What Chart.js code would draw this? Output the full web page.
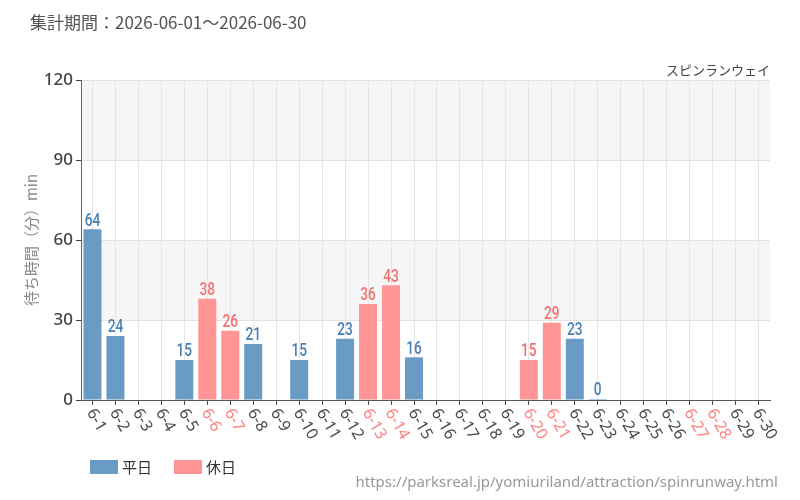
<!DOCTYPE html>
<html lang="ja">
<head>
<meta charset="UTF-8">
<title>スピンランウェイ 待ち時間</title>
<script src="https://cdn.jsdelivr.net/npm/chart.js"></script>
<style>
    body {
        margin: 0;
        padding: 0;
        background: #ffffff;
        font-family: 'Noto Sans CJK JP', 'Noto Sans', sans-serif;
    }
    .wrap {
        position: relative;
        width: 800px;
        height: 500px;
    }
    .period {
        position: absolute;
        left: 30px;
        top: 9px;
        font-size: 17px;
        color: #555;
    }
    .ride {
        position: absolute;
        right: 30px;
        top: 60px;
        font-size: 13px;
        color: #444;
    }
    .legend {
        position: absolute;
        left: 90px;
        top: 456px;
        font-size: 15px;
        color: #333;
        display: flex;
        align-items: center;
    }
    .legend span.box {
        display: inline-block;
        width: 28px;
        height: 14px;
        margin-right: 4px;
    }
    .legend span.txt {
        margin-right: 22px;
    }
    .src {
        position: absolute;
        right: 22px;
        top: 471px;
        font-size: 15px;
        color: #999;
        font-family: 'Noto Sans', sans-serif;
    }
    canvas {
        position: absolute;
        left: 0;
        top: 0;
    }
</style>
</head>
<body>
<div class="wrap">
    <canvas id="waitChart" width="800" height="500"></canvas>
    <div class="period">集計期間：2026-06-01～2026-06-30</div>
    <div class="ride">スピンランウェイ</div>
    <div class="legend">
        <span class="box" style="background:#6a9bc4"></span><span class="txt">平日</span>
        <span class="box" style="background:#ff9494"></span><span class="txt">休日</span>
    </div>
    <div class="src">https://parksreal.jp/yomiuriland/attraction/spinrunway.html</div>
</div>

<script>
    // June 2026 days
    const days = ['6-1','6-2','6-3','6-4','6-5','6-6','6-7','6-8','6-9','6-10',
                  '6-11','6-12','6-13','6-14','6-15','6-16','6-17','6-18','6-19','6-20',
                  '6-21','6-22','6-23','6-24','6-25','6-26','6-27','6-28','6-29','6-30'];
    const holidays = ['6-6','6-7','6-13','6-14','6-20','6-21','6-27','6-28'];

    // average waits (min), null = no data
    const weekdayWait = [64, 24, null, null, 15, null, null, 21, null, 15,
                         null, 23, null, null, 16, null, null, null, null, null,
                         null, 23, 0, null, null, null, null, null, null, null];
    const holidayWait = [null, null, null, null, null, 38, 26, null, null, null,
                         null, null, 36, 43, null, null, null, null, null, 15,
                         29, null, null, null, null, null, null, null, null, null];
    const yTicks = [0, 30, 60, 90, 120];

    const weekdayColor = '#6a9bc4';
    const holidayColor = '#ff9494';

    // grey bands 30-60, 90-120
    const bandPlugin = {
        id: 'bands',
        beforeDraw(chart) {
            const { ctx, chartArea, scales } = chart;
            const y = scales.y;
            ctx.save();
            ctx.fillStyle = '#f6f6f6';
            [[30, 60], [90, 120]].forEach(b => {
                const top = y.getPixelForValue(b[1]);
                const bot = y.getPixelForValue(b[0]);
                ctx.fillRect(chartArea.left, top, chartArea.right - chartArea.left, bot - top);
            });
            ctx.restore();
        }
    };

    // value labels above bars (narrowed a bit, the original uses a condensed face)
    const valuePlugin = {
        id: 'values',
        afterDatasetsDraw(chart) {
            const ctx = chart.ctx;
            ctx.save();
            ctx.font = '500 19px Roboto, "Noto Sans", sans-serif';
            ctx.textAlign = 'center';
            ctx.textBaseline = 'bottom';
            chart.data.datasets.forEach((ds, i) => {
                ctx.fillStyle = i === 0 ? '#4a80b3' : '#f27272';
                chart.getDatasetMeta(i).data.forEach((bar, j) => {
                    const v = ds.data[j];
                    if (v === null) return;
                    ctx.save();
                    ctx.translate(bar.x, bar.y + 1);
                    ctx.scale(0.72, 1);
                    ctx.fillText(String(v), 0, 0);
                    ctx.restore();
                });
            });
            ctx.restore();
        }
    };

    // rotated day labels (going down-right)
    const dayLabelPlugin = {
        id: 'dayLabels',
        afterDraw(chart) {
            const ctx = chart.ctx;
            const x = chart.scales.x;
            ctx.save();
            ctx.font = '16px "Noto Sans", sans-serif';
            ctx.textAlign = 'left';
            ctx.textBaseline = 'middle';
            days.forEach((d, i) => {
                const px = x.getPixelForTick(i);
                ctx.save();
                ctx.translate(px - 2, chart.chartArea.bottom + 10);
                ctx.rotate(Math.PI / 3);
                ctx.fillStyle = holidays.includes(d) ? '#ff8080' : '#4a4a4a';
                ctx.fillText(d, 0, 0);
                ctx.restore();
            });
            ctx.restore();
        }
    };

    const ctx = document.getElementById('waitChart').getContext('2d');
    new Chart(ctx, {
        type: 'bar',
        data: {
            labels: days,
            datasets: [
                {
                    label: '平日',
                    data: weekdayWait,
                    backgroundColor: weekdayColor,
                    minBarLength: 1
                },
                {
                    label: '休日',
                    data: holidayWait,
                    backgroundColor: holidayColor
                }
            ]
        },
        options: {
            responsive: false,
            animation: false,
            barPercentage: 0.8,
            categoryPercentage: 0.98,
            layout: {
                padding: { left: 0, right: 30, top: 80, bottom: 0 }
            },
            plugins: {
                legend: { display: false },
                tooltip: { enabled: false }
            },
            scales: {
                x: {
                    stacked: true,
                    afterFit(scale) { scale.height = 100; },
                    border: { color: '#555', width: 1 },
                    grid: {
                        offset: false,
                        color: '#e6e6e6',
                        tickColor: '#444',
                        tickLength: 5
                    },
                    ticks: { display: false }
                },
                y: {
                    stacked: false,
                    min: 0,
                    max: 120,
                    afterFit(scale) { scale.width = 81; },
                    afterBuildTicks(scale) {
                        scale.ticks = yTicks.map(v => ({ value: v }));
                    },
                    border: { color: '#666', width: 1 },
                    grid: {
                        color: '#e2e2e2',
                        tickColor: '#444',
                        tickLength: 5
                    },
                    ticks: {
                        color: '#444',
                        padding: 3,
                        font: { size: 17, weight: '500', family: '"Noto Sans", sans-serif' }
                    },
                    title: {
                        display: true,
                        text: '待ち時間（分）min',
                        color: '#888',
                        padding: { top: 22, bottom: 0 },
                        font: { size: 15, family: '"Noto Sans CJK JP", sans-serif' }
                    }
                }
            }
        },
        plugins: [bandPlugin, valuePlugin, dayLabelPlugin]
    });
</script>
</body>
</html>
